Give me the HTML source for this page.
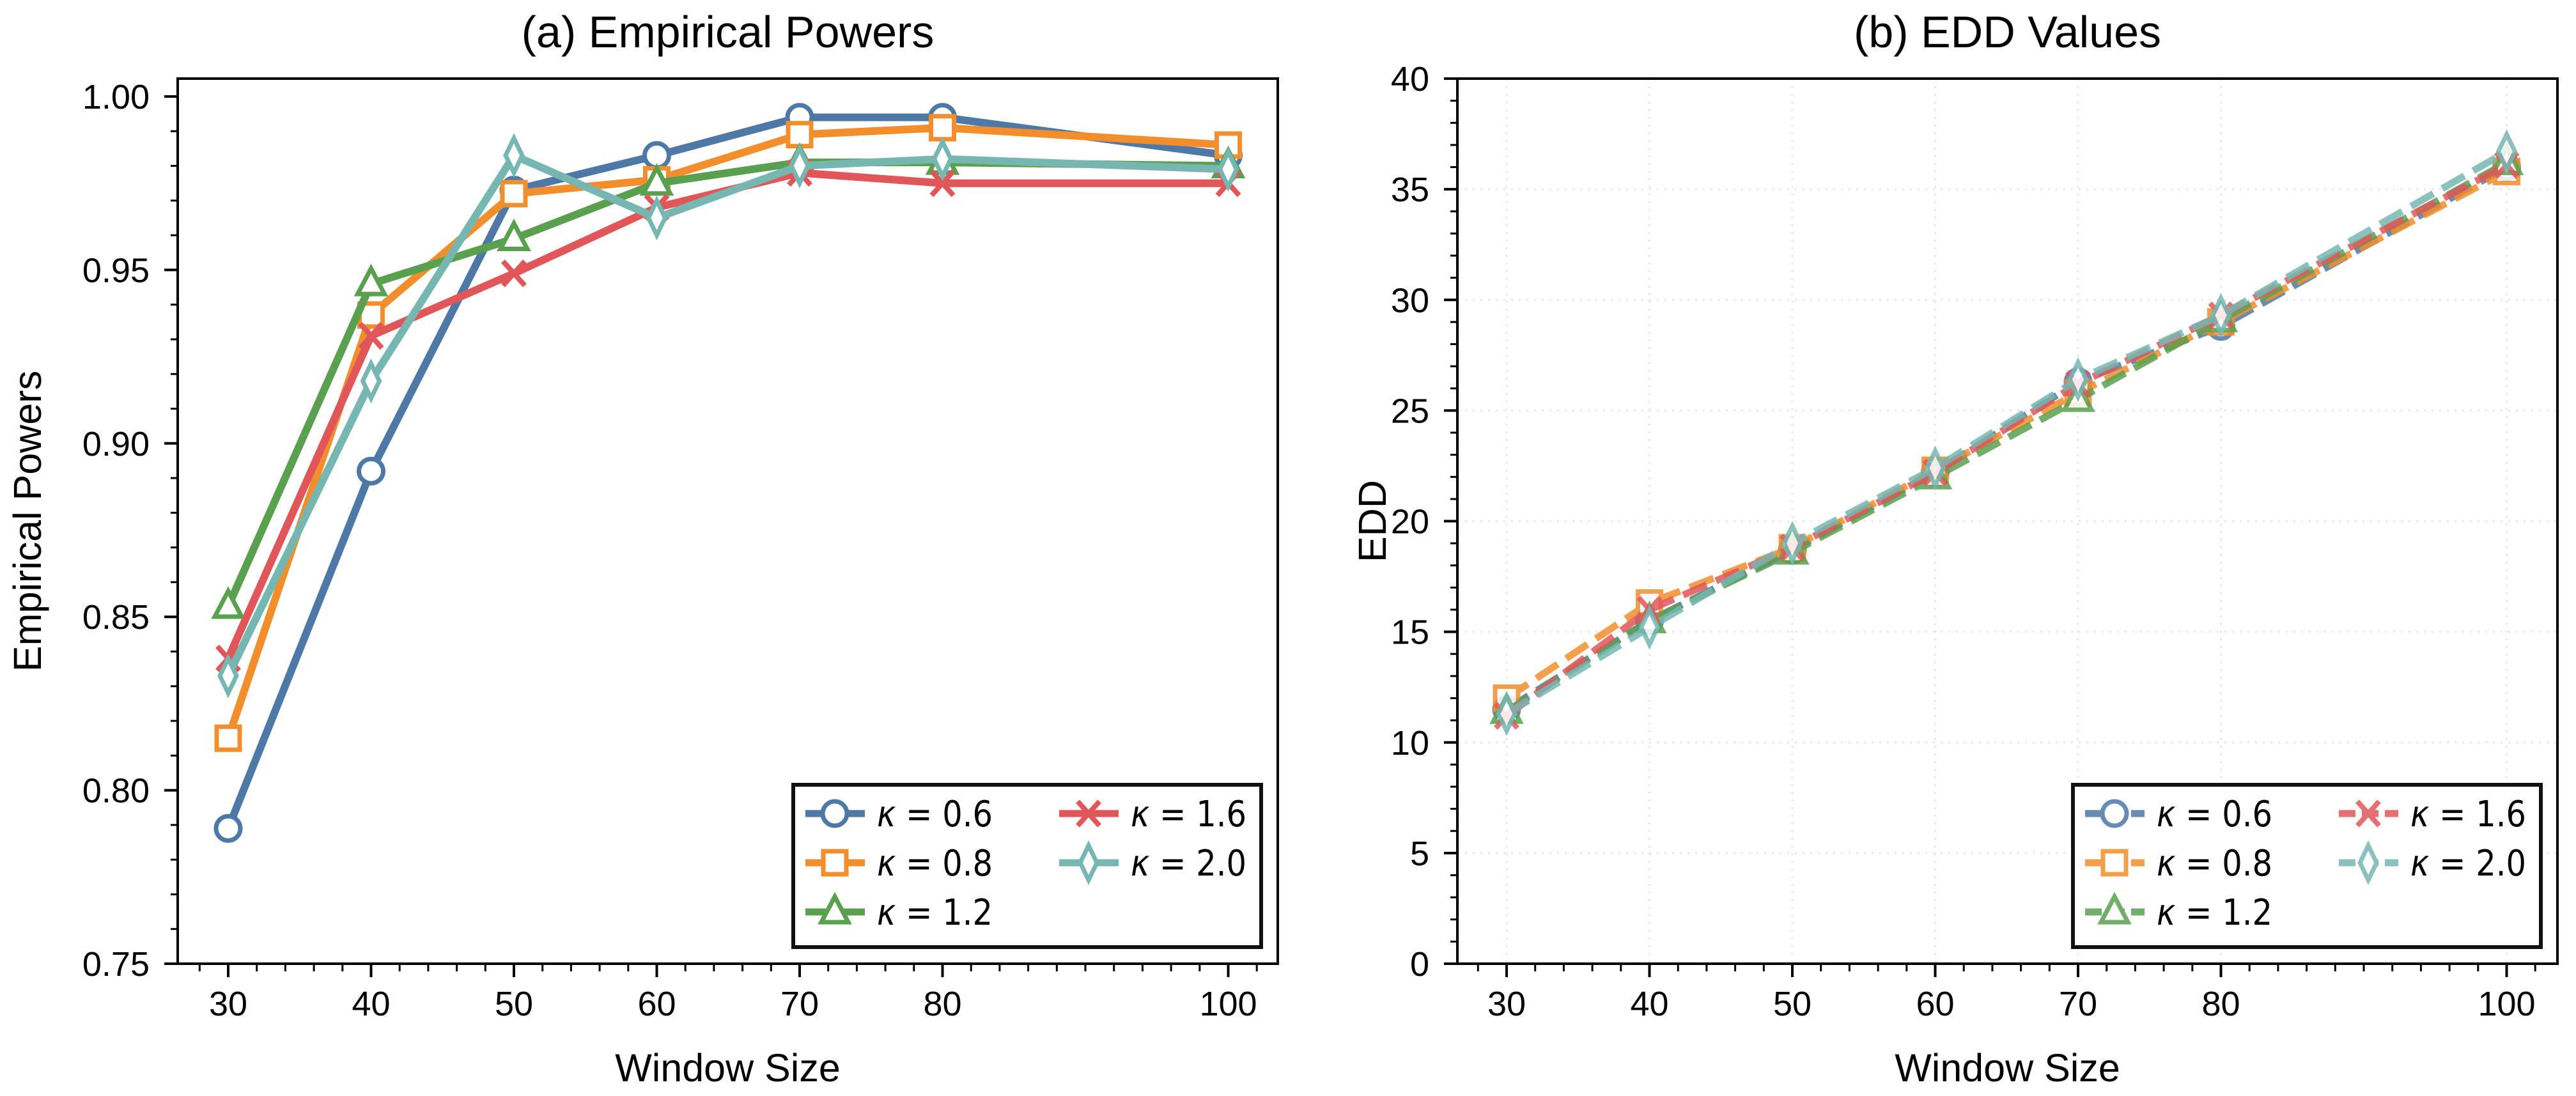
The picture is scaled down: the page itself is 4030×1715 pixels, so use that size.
<!DOCTYPE html>
<html><head><meta charset="utf-8"><style>
html,body{margin:0;padding:0;background:#fff;}
svg{display:block;}
</style></head><body>
<svg id="fig" width="4030" height="1715" viewBox="0 0 4030 1715" xmlns="http://www.w3.org/2000/svg"></svg>
<script>
const windowSizes = [30, 40, 50, 60, 70, 80, 100];
const kappaLabels = ['0.6', '0.8', '1.2', '1.6', '2.0'];
const powerK06 = [0.789, 0.892, 0.973, 0.983, 0.994, 0.994, 0.983];
const powerK08 = [0.815, 0.937, 0.972, 0.976, 0.989, 0.991, 0.986];
const powerK12 = [0.853, 0.946, 0.959, 0.975, 0.981, 0.981, 0.980];
const powerK16 = [0.838, 0.931, 0.949, 0.968, 0.978, 0.975, 0.975];
const powerK20 = [0.833, 0.918, 0.983, 0.965, 0.980, 0.982, 0.979];
const eddK06 = [11.5, 15.5, 18.7, 22.2, 26.3, 28.8, 36.0];
const eddK08 = [12.0, 16.3, 18.8, 22.3, 25.8, 29.0, 35.8];
const eddK12 = [11.4, 15.5, 18.6, 22.0, 25.5, 29.1, 36.2];
const eddK16 = [11.2, 16.0, 18.8, 22.2, 26.2, 29.3, 36.1];
const eddK20 = [11.3, 15.2, 19.0, 22.4, 26.4, 29.3, 36.7];
const xTicks = [30, 40, 50, 60, 70, 80, 100];
const powerTicks = ['0.75', '0.80', '0.85', '0.90', '0.95', '1.00'];
const eddTicks = ['0', '5', '10', '15', '20', '25', '30', '35', '40'];

const NS = 'http://www.w3.org/2000/svg';
const svg = document.getElementById('fig');
const colors = ['#4e79a7', '#f28e2b', '#59a14f', '#e15759', '#76b7b2'];
const markers = ['circle', 'square', 'triangle', 'x', 'diamond'];
function el(tag, attrs, parent) {
  const e = document.createElementNS(NS, tag);
  for (const k in attrs) e.setAttribute(k, attrs[k]);
  (parent || svg).appendChild(e);
  return e;
}
function marker(g, type, cx, cy, color) {
  let m;
  const sw = 7;
  if (type === 'circle') m = el('circle', {cx: cx, cy: cy, r: 19, fill: '#fff', stroke: color, 'stroke-width': sw}, g);
  else if (type === 'square') m = el('rect', {x: cx - 18, y: cy - 18, width: 36, height: 36, fill: '#fff', stroke: color, 'stroke-width': sw}, g);
  else if (type === 'triangle') m = el('polygon', {points: `${cx},${cy - 24} ${cx + 21},${cy + 16} ${cx - 21},${cy + 16}`, fill: '#fff', stroke: color, 'stroke-width': sw}, g);
  else if (type === 'diamond') m = el('polygon', {points: `${cx},${cy - 27} ${cx + 13},${cy} ${cx},${cy + 27} ${cx - 13},${cy}`, fill: '#fff', stroke: color, 'stroke-width': sw}, g);
  else m = el('path', {d: `M${cx - 17},${cy - 19}L${cx + 17},${cy + 19}M${cx - 17},${cy + 19}L${cx + 17},${cy - 19}`, fill: 'none', stroke: color, 'stroke-width': 8}, g);
  return m;
}
function text(str, attrs, parent) { const t = el('text', attrs, parent); t.textContent = str; return t; }

function drawPanel(opt) {
  const L = opt.left, R = opt.left + 1721, T = 123, B = 1508;
  const xs = v => opt.x30 + (v - 30) * 22.35;
  const ys = v => B - (v - opt.ymin) / (opt.ymax - opt.ymin) * (B - opt.ytop);
  const g = el('g', {});
  
  
  if (opt.grid) {
    const gg = el('g', {stroke: '#e6e6e6', 'stroke-width': 3, 'stroke-dasharray': '3 9'}, g);
    
    
    xTicks.forEach(v => el('line', {x1: xs(v), x2: xs(v), y1: T, y2: B}, gg));
    opt.yticks.forEach(s => { const y = ys(parseFloat(s)); el('line', {x1: L, x2: R, y1: y, y2: y}, gg); });
  }
  const xt = el('g', {stroke: '#000'}, g);
  
  
  for (let v = 28; v <= 103; v += 2) {
    const x = xs(v);
    if (x < L || x > R) continue;
    const major = xTicks.includes(v);
    el('line', {x1: x, x2: x, y1: B, y2: B + (major ? 21 : 12), 'stroke-width': major ? 4 : 3}, xt);
  }
  xTicks.forEach(v => {
    const t = text(String(v), {x: xs(v), y: 1589, 'font-size': 54, 'text-anchor': 'middle', 'font-family': 'Liberation Sans, sans-serif'}, g);
    
    
  });
  const yt = el('g', {stroke: '#000'}, g);
  
  
  for (let i = 0; ; i++) {
    const v = opt.ymin + i * opt.minor;
    if (v > opt.ymax + 1e-9) break;
    const y = ys(v);
    if (y < T - 1) break;
    const major = (i % opt.minorPer) === 0;
    el('line', {x1: L, x2: L - (major ? 21 : 11), y1: y, y2: y, 'stroke-width': major ? 4 : 3}, yt);
  }
  opt.yticks.forEach(s => {
    const t = text(s, {x: L - 44, y: ys(parseFloat(s)) + 19, 'font-size': 54, 'text-anchor': 'end', 'font-family': 'Liberation Sans, sans-serif'}, g);
    
    
  });
  opt.series.forEach((vals, si) => {
    const sg = el('g', {opacity: opt.dashed ? 0.85 : 1}, g);
    
    
    const pts = vals.map((v, i) => xs(windowSizes[i]) + ',' + ys(v)).join(' ');
    const pl = el('polyline', {points: pts, fill: 'none', stroke: colors[si], 'stroke-width': opt.dashed ? 11 : 12, 'stroke-linejoin': 'round', 'stroke-dasharray': opt.dashed ? '40 16' : 'none'}, sg);
    
    
    vals.forEach((v, i) => {
      const m = marker(sg, markers[si], xs(windowSizes[i]), ys(v), colors[si]);
      
      
    });
  });
  const sp = el('rect', {x: L, y: T, width: R - L, height: B - T, fill: 'none', stroke: '#000', 'stroke-width': 4}, g);
  
  
  const lg = el('g', {}, g);
  
  
  const lx = R - 758, ly = 1228;
  el('rect', {x: lx, y: ly, width: 732, height: 254, fill: '#fff', stroke: '#111', 'stroke-width': 6}, lg);
  kappaLabels.forEach((k, si) => {
    const col = si < 3 ? 0 : 1, row = si < 3 ? si : si - 3;
    const hx = lx + 19 + col * 397, cy = ly + 45 + row * 77;
    const eg = el('g', {opacity: opt.dashed ? 0.85 : 1}, lg);
    
    
    el('line', {x1: hx, x2: hx + 93, y1: cy, y2: cy, stroke: colors[si], 'stroke-width': 11, 'stroke-dasharray': opt.dashed ? '26 10' : 'none'}, eg);
    marker(eg, markers[si], hx + 46, cy, colors[si]);
    const t = el('text', {x: hx + 112, y: cy + 20, 'font-size': 56, 'font-family': 'DejaVu Sans, sans-serif', textLength: 181, lengthAdjust: 'spacingAndGlyphs'}, lg);
    const ts = el('tspan', {'font-style': 'italic'}, t); ts.textContent = 'κ';
    const t2 = el('tspan', {}, t); t2.textContent = ' = ' + k;
    
    
  });
  const cx = (L + R) / 2;
  const tt = text(opt.title, {x: cx, y: 74, 'font-size': 70, 'text-anchor': 'middle', 'font-family': 'Liberation Sans, sans-serif'}, g);
  
  
  const xl = text('Window Size', {x: cx, y: 1692, 'font-size': 61, 'text-anchor': 'middle', 'font-family': 'Liberation Sans, sans-serif'}, g);
  
  
  const yl = text(opt.ylabel, {x: 0, y: 0, 'font-size': 61, 'text-anchor': 'middle', 'font-family': 'Liberation Sans, sans-serif', transform: `translate(${opt.ylabelX},${(T + B) / 2}) rotate(-90)`}, g);
  
  
}

drawPanel({name: 'empirical-powers-chart', left: 278, x30: 357, ymin: 0.75, ymax: 1.00, ytop: 151, minor: 0.01, minorPer: 5,
  yticks: powerTicks, series: [powerK06, powerK08, powerK12, powerK16, powerK20], dashed: false, grid: false,
  title: '(a) Empirical Powers', ylabel: 'Empirical Powers', ylabelX: 64});
drawPanel({name: 'edd-values-chart', left: 2280, x30: 2357, ymin: 0, ymax: 40, ytop: 123, minor: 1, minorPer: 5,
  yticks: eddTicks, series: [eddK06, eddK08, eddK12, eddK16, eddK20], dashed: true, grid: true,
  title: '(b) EDD Values', ylabel: 'EDD', ylabelX: 2168});
</script>
</body></html>
